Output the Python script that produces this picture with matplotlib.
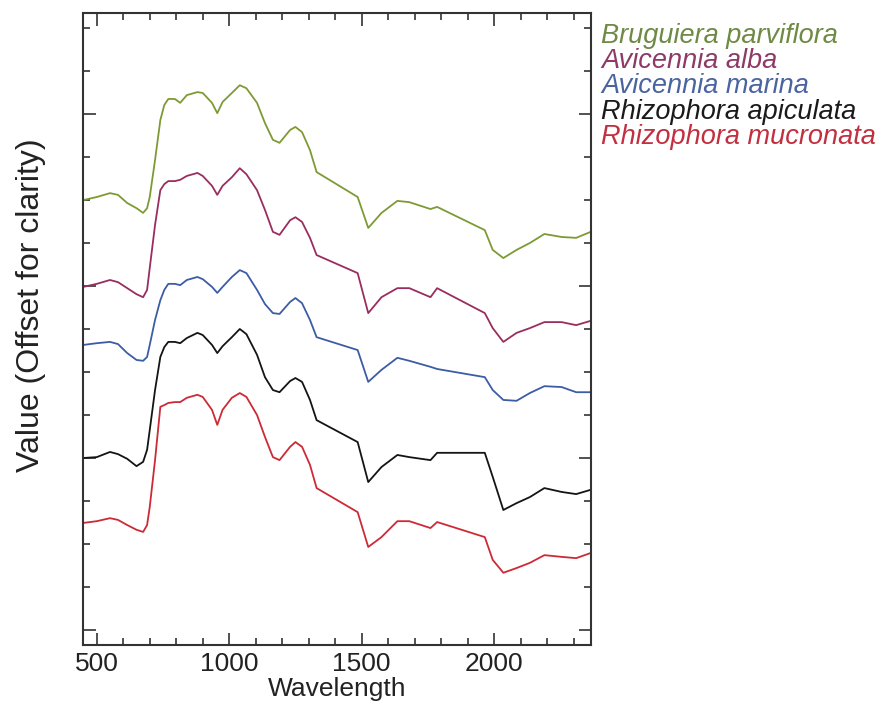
import matplotlib
matplotlib.use("Agg")
import matplotlib.pyplot as plt
from matplotlib.ticker import MultipleLocator

plt.rcParams['font.family'] = ['Liberation Sans', 'DejaVu Sans']

# wavelength grid (nm)
wavelength = [450, 500, 550, 580, 615, 650, 675, 690, 700, 720,
              740, 755, 770, 795, 815, 840, 880, 900, 935, 955,
              975, 1010, 1040, 1065, 1105, 1135, 1165, 1190, 1230, 1250,
              1275, 1305, 1330, 1485, 1525, 1575, 1635, 1680, 1760, 1785,
              1965, 1995, 2035, 2085, 2135, 2190, 2255, 2310, 2365]

# values as plotted (already offset)
bruguiera = [10.00, 10.07, 10.16, 10.12, 9.93, 9.81, 9.70, 9.81, 10.07, 10.93,
             11.86, 12.21, 12.35, 12.35, 12.26, 12.44, 12.51, 12.49, 12.26, 12.02,
             12.28, 12.49, 12.67, 12.60, 12.26, 11.79, 11.40, 11.33, 11.63, 11.70,
             11.58, 11.16, 10.65, 10.07, 9.35, 9.70, 9.98, 9.95, 9.79, 9.84,
             9.30, 8.84, 8.65, 8.84, 9.00, 9.21, 9.14, 9.12, 9.26]
av_alba = [7.98, 8.05, 8.14, 8.09, 7.95, 7.81, 7.74, 7.91, 8.42, 9.42,
           10.23, 10.37, 10.44, 10.44, 10.47, 10.56, 10.63, 10.56, 10.33, 10.12,
           10.33, 10.53, 10.74, 10.60, 10.23, 9.77, 9.26, 9.19, 9.53, 9.60,
           9.49, 9.12, 8.72, 8.30, 7.37, 7.74, 7.95, 7.95, 7.74, 7.95,
           7.37, 7.02, 6.70, 6.91, 7.02, 7.16, 7.16, 7.09, 7.19]
av_marina = [6.63, 6.67, 6.70, 6.65, 6.44, 6.28, 6.26, 6.35, 6.63, 7.21,
             7.67, 7.91, 8.05, 8.05, 8.02, 8.14, 8.21, 8.16, 7.98, 7.84,
             7.98, 8.21, 8.37, 8.30, 7.91, 7.58, 7.37, 7.35, 7.63, 7.72,
             7.60, 7.21, 6.81, 6.51, 5.77, 6.05, 6.33, 6.26, 6.12, 6.07,
             5.88, 5.58, 5.35, 5.33, 5.51, 5.67, 5.65, 5.53, 5.53]
rh_apiculata = [4.00, 4.02, 4.14, 4.09, 3.98, 3.81, 3.91, 4.19, 4.65, 5.58,
                6.35, 6.58, 6.70, 6.70, 6.67, 6.79, 6.91, 6.86, 6.63, 6.44,
                6.60, 6.81, 7.00, 6.88, 6.40, 5.88, 5.58, 5.53, 5.79, 5.86,
                5.77, 5.35, 4.88, 4.37, 3.44, 3.79, 4.07, 4.02, 3.95, 4.12,
                4.12, 3.56, 2.79, 2.95, 3.09, 3.30, 3.21, 3.16, 3.26]
rh_mucronata = [2.49, 2.53, 2.60, 2.56, 2.44, 2.33, 2.28, 2.44, 2.86, 3.95,
                5.19, 5.23, 5.28, 5.30, 5.30, 5.40, 5.47, 5.42, 5.12, 4.77,
                5.12, 5.40, 5.51, 5.42, 5.00, 4.49, 4.02, 3.95, 4.26, 4.37,
                4.26, 3.84, 3.30, 2.74, 1.93, 2.16, 2.53, 2.53, 2.37, 2.51,
                2.16, 1.63, 1.33, 1.44, 1.56, 1.74, 1.70, 1.67, 1.79]

names = ["Bruguiera parviflora", "Avicennia alba", "Avicennia marina",
         "Rhizophora apiculata", "Rhizophora mucronata"]
series = [bruguiera, av_alba, av_marina, rh_apiculata, rh_mucronata]
colors = ["#7e9a34", "#9a2d5f", "#3c5ca6", "#141414", "#cc2a36"]
text_colors = ["#6f8a45", "#8f3a66", "#4a64a0", "#1a1a1a", "#c23040"]

fig = plt.figure(figsize=(8.86, 7.09), dpi=100)
ax = fig.add_axes([83 / 886, 64 / 709, 508 / 886, 632 / 709])

for ys, c in zip(series, colors):
    ax.plot(wavelength, ys, color=c, lw=1.3)

ax.set_xlim(448, 2366)
ax.set_ylim(-0.35, 14.35)
ax.xaxis.set_major_locator(MultipleLocator(500))
ax.xaxis.set_minor_locator(MultipleLocator(100))
ax.yaxis.set_major_locator(MultipleLocator(4))
ax.yaxis.set_minor_locator(MultipleLocator(1))
ax.tick_params(which='both', direction='in', top=True, right=True, width=1.2,
               color='#333333')
ax.tick_params(which='major', length=9)
ax.tick_params(which='minor', length=5)
ax.tick_params(axis='x', labelsize=19, pad=5, labelcolor='#222222')
ax.tick_params(axis='y', labelleft=False)
for s in ax.spines.values():
    s.set_linewidth(1.5)
    s.set_color('#333333')

ax.set_xlabel("Wavelength", fontsize=19, color='#222222', labelpad=1)
fig.text(31 / 886, 1 - 305 / 709, "Value (Offset for clarity)", rotation=90,
         fontsize=23, ha='center', va='center', color='#222222')

for i, (n, c) in enumerate(zip(names, text_colors)):
    fig.text(601 / 886, 1 - (43 + 25.2 * i) / 709, n, fontsize=19.5,
             style='italic', color=c, ha='left', va='baseline')

fig.savefig("out.png", dpi=100)
